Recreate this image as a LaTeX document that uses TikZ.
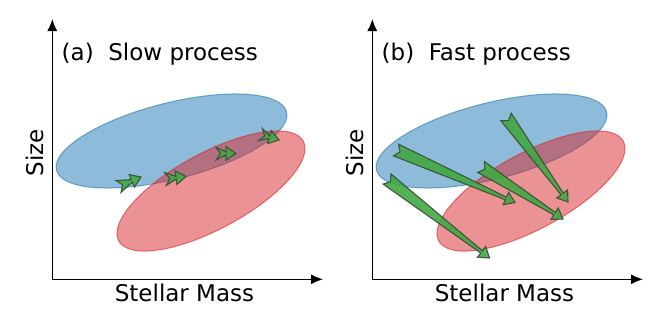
\documentclass[tikz,border=0pt]{standalone}
\usepackage{fontspec}
\setmainfont{DejaVu Sans}
\usepackage{xcolor}
\usepackage{tikz}
\usetikzlibrary{arrows.meta, calc}
\definecolor{massblue}{rgb}{0.12,0.47,0.71}
\definecolor{massred}{rgb}{0.84,0.15,0.16}
\definecolor{arrowgreen}{rgb}{0.26,0.66,0.26}
\definecolor{arrowedge}{rgb}{0.22,0.30,0.22}
% fancy arrow from #1 (tail) to #2 (tip)
\newcommand{\growtharrow}[2]{%
    \coordinate (nk) at ($(#2)!5pt!(#1)$);
    \coordinate (nt) at ($(#1)!2.2pt!(#2)$);
    \draw [growth] ($(#1)!3.2pt!90:(#2)$) -- ($(nk)!0.7pt!90:(#2)$) -- ($(nk)!3.4pt!90:(#2)$) -- (#2)
        -- ($(nk)!3.4pt!-90:(#2)$) -- ($(nk)!0.7pt!-90:(#2)$) -- ($(#1)!3.2pt!-90:(#2)$) -- (nt) -- cycle;
}

\begin{document}
\begin{tikzpicture}[x=0.5pt, y=-0.5pt, >={Latex[length=6pt, width=5pt]}]
    \tikzstyle{axis} = [->, line width=0.6pt, black]
    \tikzstyle{label} = [inner sep=0pt, font=\fontsize{11.5}{14}\selectfont]
    \tikzstyle{blueblob} = [fill=massblue, fill opacity=0.5, draw=massblue, draw opacity=0.6, line width=0.5pt]
    \tikzstyle{redblob} = [fill=massred, fill opacity=0.5, draw=massred, draw opacity=0.6, line width=0.5pt]
    \tikzstyle{growth} = [fill=arrowgreen, fill opacity=0.9, draw=arrowedge, draw opacity=0.9, line width=0.55pt, line join=miter]

    \useasboundingbox (0,0) rectangle (664,332);

    % axes
    \coordinate (oa) at (52.3,279.3);
    \coordinate (ya) at (52.3,19);
    \coordinate (xa) at (323,279.3);
    \coordinate (ob) at (372.3,279.3);
    \coordinate (yb) at (372.3,19);
    \coordinate (xb) at (643,279.3);
    \draw [axis] (oa) -- (ya);
    \draw [axis] (oa) -- (xa);
    \draw [axis] (ob) -- (yb);
    \draw [axis] (ob) -- (xb);

    \node (ttla) [label, anchor=base west] at (61.3,60) {(a)~~Slow process};
    \node (ttlb) [label, anchor=base west] at (381.3,60) {(b)~~Fast process};
    \node (xlaba) [label, anchor=base] at (184.5,301.5) {Stellar Mass};
    \node (xlabb) [label, anchor=base] at (504.5,301.5) {Stellar Mass};
    \node (ylaba) [label, anchor=base, rotate=90] at (43.3,152.5) {Size};
    \node (ylabb) [label, anchor=base, rotate=90] at (363.3,152.5) {Size};

    % populations
    \draw [blueblob] (171.5,141) circle [x radius=118.7, y radius=38.1, rotate=14.2];
    \draw [redblob]  (211,191)   circle [x radius=104.9, y radius=38, rotate=28.4];
    \draw [blueblob] (491.5,141) circle [x radius=118.7, y radius=38.1, rotate=14.2];
    \draw [redblob]  (531,191)   circle [x radius=104.9, y radius=38, rotate=28.4];

    % slow process
    \coordinate (s1) at (118.5,186.5); \coordinate (e1) at (141,177);
    \coordinate (s2) at (165.5,179);   \coordinate (e2) at (186,176.5);
    \coordinate (s3) at (216,153.5);   \coordinate (e3) at (236,153.5);
    \coordinate (s4) at (260.5,134.5); \coordinate (e4) at (279,140);
    \growtharrow{s1}{e1}
    \growtharrow{s2}{e2}
    \growtharrow{s3}{e3}
    \growtharrow{s4}{e4}

    % fast process
    \coordinate (f1) at (506,117);   \coordinate (g1) at (568,202);
    \coordinate (f2) at (396,150);   \coordinate (g2) at (515,202.5);
    \coordinate (f3) at (481,167);   \coordinate (g3) at (563,219);
    \coordinate (f4) at (387,179);   \coordinate (g4) at (489.5,258);
    \growtharrow{f1}{g1}
    \growtharrow{f2}{g2}
    \growtharrow{f3}{g3}
    \growtharrow{f4}{g4}
\end{tikzpicture}
\end{document}
